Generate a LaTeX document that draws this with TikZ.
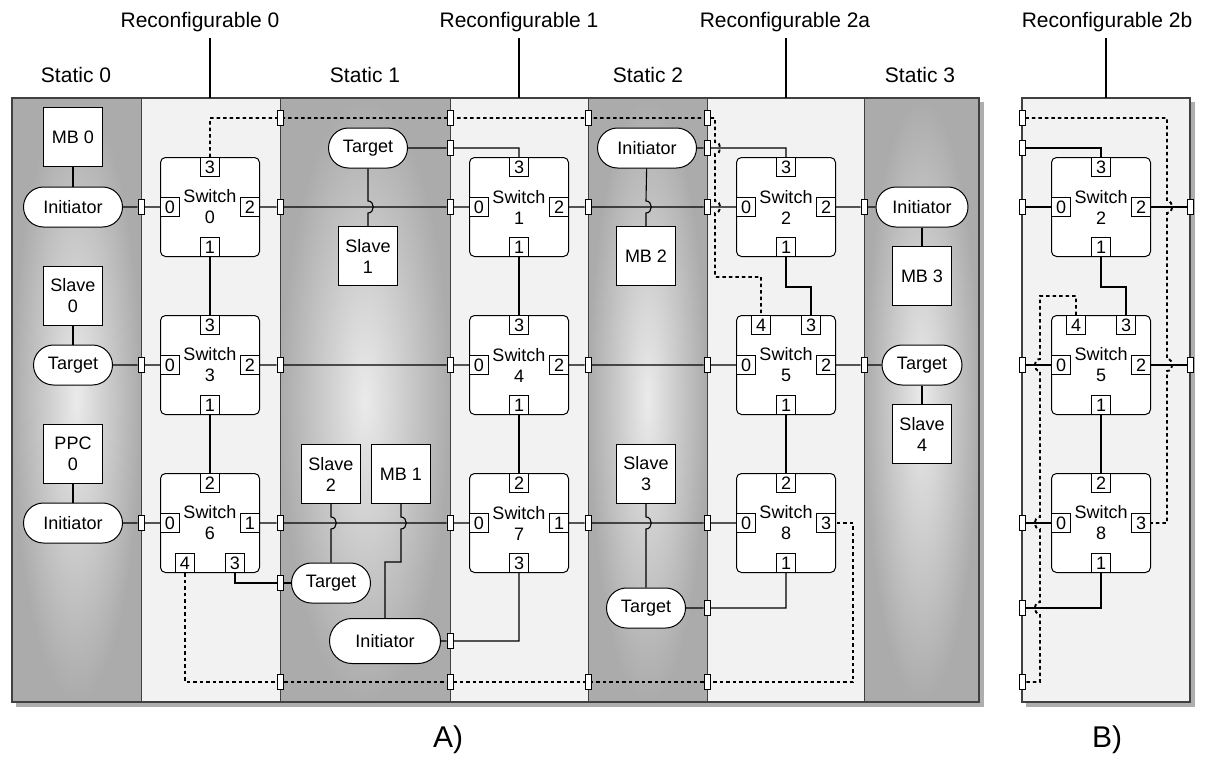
\documentclass[tikz,border=0pt]{standalone}
\usepackage{fontspec}
\setmainfont{Liberation Sans}
\usetikzlibrary{shapes.misc}
\pgfdeclarelayer{back}
\pgfsetlayers{back,main}

\begin{document}
\begin{tikzpicture}[x=1pt,y=1pt,yscale=-1,
  every node/.style={font=\fontsize{18}{21}\selectfont},
  switchbox/.style={draw,fill=white,rounded corners=5pt,minimum width=99pt,minimum height=99pt,align=center,inner sep=0pt,line width=1pt},
  portbox/.style={draw,fill=white,minimum width=19pt,minimum height=19pt,inner sep=0pt,line width=1pt},
  busport/.style={draw,fill=white,minimum width=6pt,minimum height=15pt,inner sep=0pt,line width=0.8pt},
  blockbox/.style={draw,fill=white,minimum width=59pt,minimum height=59pt,align=center,inner sep=0pt,line width=1pt},
  ifnode/.style={draw,fill=white,rounded rectangle,minimum width=#1,minimum height=40pt,inner sep=0pt,line width=1pt},
  ifnode/.default=99pt,
  wire/.style={line width=1.1pt},
  dotwire/.style={line width=1.9pt,dash pattern=on 3.5pt off 3pt},
  regionlabel/.style={font=\fontsize{21}{24}\selectfont}
]
\useasboundingbox (0,0) rectangle (1216,760);

%Shapes: panels
\begin{pgfonlayer}{back}
\fill[black!45,opacity=0.7] (16,102) rectangle (984,707);
\fill[black!45,opacity=0.7] (1026,102) rectangle (1195,707);
\shade[inner color=gray!16,outer color=gray!66] (12,98) rectangle (141,702);
\shade[inner color=gray!16,outer color=gray!66] (280,98) rectangle (450,702);
\shade[inner color=gray!16,outer color=gray!66] (588,98) rectangle (707,702);
\shade[inner color=gray!16,outer color=gray!66] (864,98) rectangle (979,702);
\filldraw[fill=gray!10,draw=black!75,line width=0.7pt] (141,98) rectangle (280,702);
\filldraw[fill=gray!10,draw=black!75,line width=0.7pt] (450,98) rectangle (588,702);
\filldraw[fill=gray!10,draw=black!75,line width=0.7pt] (707,98) rectangle (864,702);
\draw[black!75,line width=1.2pt] (12,98) rectangle (979,702);
\filldraw[fill=gray!10,draw=black!75,line width=1.2pt] (1022,98) rectangle (1190,702);
\end{pgfonlayer}

% Text Node
\node[regionlabel] (lr0) at (200,22) {Reconfigurable 0};
\node[regionlabel] (lr1) at (519,22) {Reconfigurable 1};
\node[regionlabel] (lr2a) at (785,22) {Reconfigurable 2a};
\node[regionlabel] (lr2b) at (1107,22) {Reconfigurable 2b};
\node[regionlabel] (ls0) at (76,75) {Static 0};
\node[regionlabel] (ls1) at (365,75) {Static 1};
\node[regionlabel] (ls2) at (648,75) {Static 2};
\node[regionlabel] (ls3) at (920,75) {Static 3};
\node[font=\fontsize{30}{34}\selectfont] (la) at (448,740) {A)};
\node[font=\fontsize{30}{34}\selectfont] (lb) at (1107,740) {B)};

%Straight Lines
\draw[wire] (210,38) -- (210,98);
\draw[wire] (519,38) -- (519,98);
\draw[wire] (786,38) -- (786,98);
\draw[wire] (1106,38) -- (1106,98);

% Switches, panel A
\node[switchbox] (s0) at (210,207) {Switch\\0};
\node[portbox,anchor=north] (s0p3) at (s0.north) {3};
\node[portbox,anchor=west] (s0p0) at (s0.west) {0};
\node[portbox,anchor=east] (s0p2) at (s0.east) {2};
\node[portbox,anchor=south] (s0p1) at (s0.south) {1};

\node[switchbox] (s3) at (210,365) {Switch\\3};
\node[portbox,anchor=north] (s3p3) at (s3.north) {3};
\node[portbox,anchor=west] (s3p0) at (s3.west) {0};
\node[portbox,anchor=east] (s3p2) at (s3.east) {2};
\node[portbox,anchor=south] (s3p1) at (s3.south) {1};

\node[switchbox] (s6) at (210,523) {Switch\\6};
\node[portbox,anchor=north] (s6p2) at (s6.north) {2};
\node[portbox,anchor=west] (s6p0) at (s6.west) {0};
\node[portbox,anchor=east] (s6p1) at (s6.east) {1};
\node[portbox,anchor=south west] (s6p4) at ([xshift=15pt]s6.south west) {4};
\node[portbox,anchor=south east] (s6p3) at ([xshift=-15pt]s6.south east) {3};

\node[switchbox] (s1) at (519,207) {Switch\\1};
\node[portbox,anchor=north] (s1p3) at (s1.north) {3};
\node[portbox,anchor=west] (s1p0) at (s1.west) {0};
\node[portbox,anchor=east] (s1p2) at (s1.east) {2};
\node[portbox,anchor=south] (s1p1) at (s1.south) {1};

\node[switchbox] (s4) at (519,365) {Switch\\4};
\node[portbox,anchor=north] (s4p3) at (s4.north) {3};
\node[portbox,anchor=west] (s4p0) at (s4.west) {0};
\node[portbox,anchor=east] (s4p2) at (s4.east) {2};
\node[portbox,anchor=south] (s4p1) at (s4.south) {1};

\node[switchbox] (s7) at (519,523) {Switch\\7};
\node[portbox,anchor=north] (s7p2) at (s7.north) {2};
\node[portbox,anchor=west] (s7p0) at (s7.west) {0};
\node[portbox,anchor=east] (s7p1) at (s7.east) {1};
\node[portbox,anchor=south] (s7p3) at (s7.south) {3};

\node[switchbox] (s2) at (786,207) {Switch\\2};
\node[portbox,anchor=north] (s2p3) at (s2.north) {3};
\node[portbox,anchor=west] (s2p0) at (s2.west) {0};
\node[portbox,anchor=east] (s2p2) at (s2.east) {2};
\node[portbox,anchor=south] (s2p1) at (s2.south) {1};

\node[switchbox] (s5) at (786,365) {Switch\\5};
\node[portbox,anchor=north west] (s5p4) at ([xshift=15pt]s5.north west) {4};
\node[portbox,anchor=north east] (s5p3) at ([xshift=-15pt]s5.north east) {3};
\node[portbox,anchor=west] (s5p0) at (s5.west) {0};
\node[portbox,anchor=east] (s5p2) at (s5.east) {2};
\node[portbox,anchor=south] (s5p1) at (s5.south) {1};

\node[switchbox] (s8) at (786,523) {Switch\\8};
\node[portbox,anchor=north] (s8p2) at (s8.north) {2};
\node[portbox,anchor=west] (s8p0) at (s8.west) {0};
\node[portbox,anchor=east] (s8p3) at (s8.east) {3};
\node[portbox,anchor=south] (s8p1) at (s8.south) {1};

% Switches, panel B
\node[switchbox] (bs2) at (1101,207) {Switch\\2};
\node[portbox,anchor=north] (bs2p3) at (bs2.north) {3};
\node[portbox,anchor=west] (bs2p0) at (bs2.west) {0};
\node[portbox,anchor=east] (bs2p2) at (bs2.east) {2};
\node[portbox,anchor=south] (bs2p1) at (bs2.south) {1};

\node[switchbox] (bs5) at (1101,365) {Switch\\5};
\node[portbox,anchor=north west] (bs5p4) at ([xshift=15pt]bs5.north west) {4};
\node[portbox,anchor=north east] (bs5p3) at ([xshift=-15pt]bs5.north east) {3};
\node[portbox,anchor=west] (bs5p0) at (bs5.west) {0};
\node[portbox,anchor=east] (bs5p2) at (bs5.east) {2};
\node[portbox,anchor=south] (bs5p1) at (bs5.south) {1};

\node[switchbox] (bs8) at (1101,523) {Switch\\8};
\node[portbox,anchor=north] (bs8p2) at (bs8.north) {2};
\node[portbox,anchor=west] (bs8p0) at (bs8.west) {0};
\node[portbox,anchor=east] (bs8p3) at (bs8.east) {3};
\node[portbox,anchor=south] (bs8p1) at (bs8.south) {1};

% Static blocks
\node[blockbox] (mb0) at (73,137) {MB 0};
\node[ifnode] (ini0) at (73,207) {Initiator};
\node[blockbox] (sl0) at (73,296) {Slave\\0};
\node[ifnode=79pt] (tg0) at (73,365) {Target};
\node[blockbox] (ppc0) at (73,454) {PPC\\0};
\node[ifnode] (ini0b) at (73,523) {Initiator};

\node[ifnode=79pt] (tg1) at (368,148) {Target};
\node[blockbox] (sl1) at (368,256) {Slave\\1};
\node[blockbox] (sl2) at (331,474) {Slave\\2};
\node[blockbox] (mb1) at (401,474) {MB 1};
\node[ifnode=79pt] (tg1b) at (331,583) {Target};
\node[ifnode=111pt,minimum height=45pt] (ini1) at (385,641) {Initiator};

\node[ifnode] (ini2) at (647,148) {Initiator};
\node[blockbox] (mb2) at (646,256) {MB 2};
\node[blockbox] (sl3) at (646,474) {Slave\\3};
\node[ifnode=79pt] (tg2) at (646,608) {Target};

\node[ifnode=92pt] (ini3) at (922,207) {Initiator};
\node[blockbox] (mb3) at (922,276) {MB 3};
\node[ifnode=80pt] (tg3) at (922,365) {Target};
\node[blockbox] (sl4) at (922,434) {Slave\\4};

% Bus ports on region borders
\node[busport] (b1r0) at (141,207) {};
\node[busport] (b2r0) at (280,207) {};
\node[busport] (b3r0) at (450,207) {};
\node[busport] (b4r0) at (588,207) {};
\node[busport] (b5r0) at (707,207) {};
\node[busport] (b6r0) at (864,207) {};
\node[busport] (b1r1) at (141,365) {};
\node[busport] (b2r1) at (280,365) {};
\node[busport] (b3r1) at (450,365) {};
\node[busport] (b4r1) at (588,365) {};
\node[busport] (b5r1) at (707,365) {};
\node[busport] (b6r1) at (864,365) {};
\node[busport] (b1r2) at (141,523) {};
\node[busport] (b2r2) at (280,523) {};
\node[busport] (b3r2) at (450,523) {};
\node[busport] (b4r2) at (588,523) {};
\node[busport] (b5r2) at (707,523) {};
\node[busport] (b2t) at (280,118) {};
\node[busport] (b3t) at (450,118) {};
\node[busport] (b4t) at (588,118) {};
\node[busport] (b5t) at (707,118) {};
\node[busport] (b2d) at (280,682) {};
\node[busport] (b3d) at (450,682) {};
\node[busport] (b4d) at (588,682) {};
\node[busport] (b5d) at (707,682) {};
\node[busport] (b3a) at (450,148) {};
\node[busport] (b5a) at (707,148) {};
\node[busport] (b2c) at (280,583) {};
\node[busport] (b3c) at (450,641) {};
\node[busport] (b5c) at (707,608) {};
\node[busport] (bl118) at (1022,118) {};
\node[busport] (bl148) at (1022,148) {};
\node[busport] (bl207) at (1022,207) {};
\node[busport] (br207) at (1190,207) {};
\node[busport] (bl365) at (1022,365) {};
\node[busport] (br365) at (1190,365) {};
\node[busport] (bl523) at (1022,523) {};
\node[busport] (bl608) at (1022,608) {};
\node[busport] (bl682) at (1022,682) {};

%Dotted Lines
\begin{pgfonlayer}{back}
\draw[dotwire] (s0p3) -- (210,118) -- (715,118) -- (715,142) .. controls (722,142) and (722,154) .. (715,154) -- (715,201) .. controls (722,201) and (722,213) .. (715,213) -- (715,277) -- (s5p4 |- 0,277) -- (s5p4);
\draw[dotwire] (s6p4) -- (s6p4 |- 0,682) -- (853,682) -- (853,523) -- (s8p3);
\draw[dotwire] (bl118) -- (1167,118) -- (1167,201) .. controls (1174,201) and (1174,213) .. (1167,213) -- (1167,359) .. controls (1174,359) and (1174,371) .. (1167,371) -- (1167,523) -- (bs8p3);
\draw[dotwire] (bs5p4) -- (bs5p4 |- 0,296) -- (1040,296) -- (1040,359) .. controls (1033,359) and (1033,371) .. (1040,371) -- (1040,517) .. controls (1033,517) and (1033,529) .. (1040,529) -- (1040,602) .. controls (1033,602) and (1033,614) .. (1040,614) -- (1040,682) -- (bl682);
\end{pgfonlayer}

%Straight Lines: buses
\draw[wire] (ini0) -- (b1r0) (b1r0) -- (s0p0) (s0p2) -- (b2r0) (b2r0) -- (b3r0) (b3r0) -- (s1p0) (s1p2) -- (b4r0) (b4r0) -- (b5r0) (b5r0) -- (s2p0) (s2p2) -- (b6r0) (b6r0) -- (ini3);
\draw[wire] (tg0) -- (b1r1) (b1r1) -- (s3p0) (s3p2) -- (b2r1) (b2r1) -- (b3r1) (b3r1) -- (s4p0) (s4p2) -- (b4r1) (b4r1) -- (b5r1) (b5r1) -- (s5p0) (s5p2) -- (b6r1) (b6r1) -- (tg3);
\draw[wire] (ini0b) -- (b1r2) (b1r2) -- (s6p0) (s6p1) -- (b2r2) (b2r2) -- (b3r2) (b3r2) -- (s7p0) (s7p1) -- (b4r2) (b4r2) -- (b5r2) (b5r2) -- (s8p0);
\draw[wire] (s0p1) -- (s3p3) (s3p1) -- (s6p2) (s1p1) -- (s4p3) (s4p1) -- (s7p2) (s5p1) -- (s8p2);
\draw[wire] (s2p1) -- (s2p1 |- 0,287) -| (s5p3);
\draw[wire] (tg1) -- (b3a) (b3a) -- (b3a -| s1p3) -- (s1p3);
\draw[wire] (ini2) -- (b5a) (b5a) -- (b5a -| s2p3) -- (s2p3);
\draw[wire] (s6p3) -- (s6p3 |- b2c) -- (b2c) (b2c) -- (tg1b);
\draw[wire] (ini1) -- (b3c) (b3c) -- (b3c -| s7p3) -- (s7p3);
\draw[wire] (tg2) -- (b5c) (b5c) -- (b5c -| s8p1) -- (s8p1);

% vertical links with hops
\draw[wire] (mb0) -- (ini0) (sl0) -- (tg0) (ppc0) -- (ini0b) (ini3) -- (mb3) (tg3) -- (sl4);
\draw[wire] (tg1) -- (368,201) .. controls (375,201) and (375,213) .. (368,213) -- (sl1);
\draw[wire] (ini2) -- (646,201) .. controls (653,201) and (653,213) .. (646,213) -- (mb2);
\draw[wire] (sl2) -- (331,517) .. controls (338,517) and (338,529) .. (331,529) -- (tg1b);
\draw[wire] (mb1) -- (401,517) .. controls (408,517) and (408,529) .. (401,529) -- (401,562) -- (385,562) -- (ini1);
\draw[wire] (sl3) -- (646,517) .. controls (653,517) and (653,529) .. (646,529) -- (tg2);

% panel B links
\draw[wire] (bl148) -- (bl148 -| bs2p3) -- (bs2p3);
\draw[wire] (bl207) -- (bs2p0) (bs2p2) -- (br207);
\draw[wire] (bs2p1) -- (bs2p1 |- 0,287) -| (bs5p3);
\draw[wire] (bl365) -- (bs5p0) (bs5p2) -- (br365);
\draw[wire] (bs5p1) -- (bs8p2) (bl523) -- (bs8p0);
\draw[wire] (bs8p1) -- (bs8p1 |- bl608) -- (bl608);

\end{tikzpicture}
\end{document}
